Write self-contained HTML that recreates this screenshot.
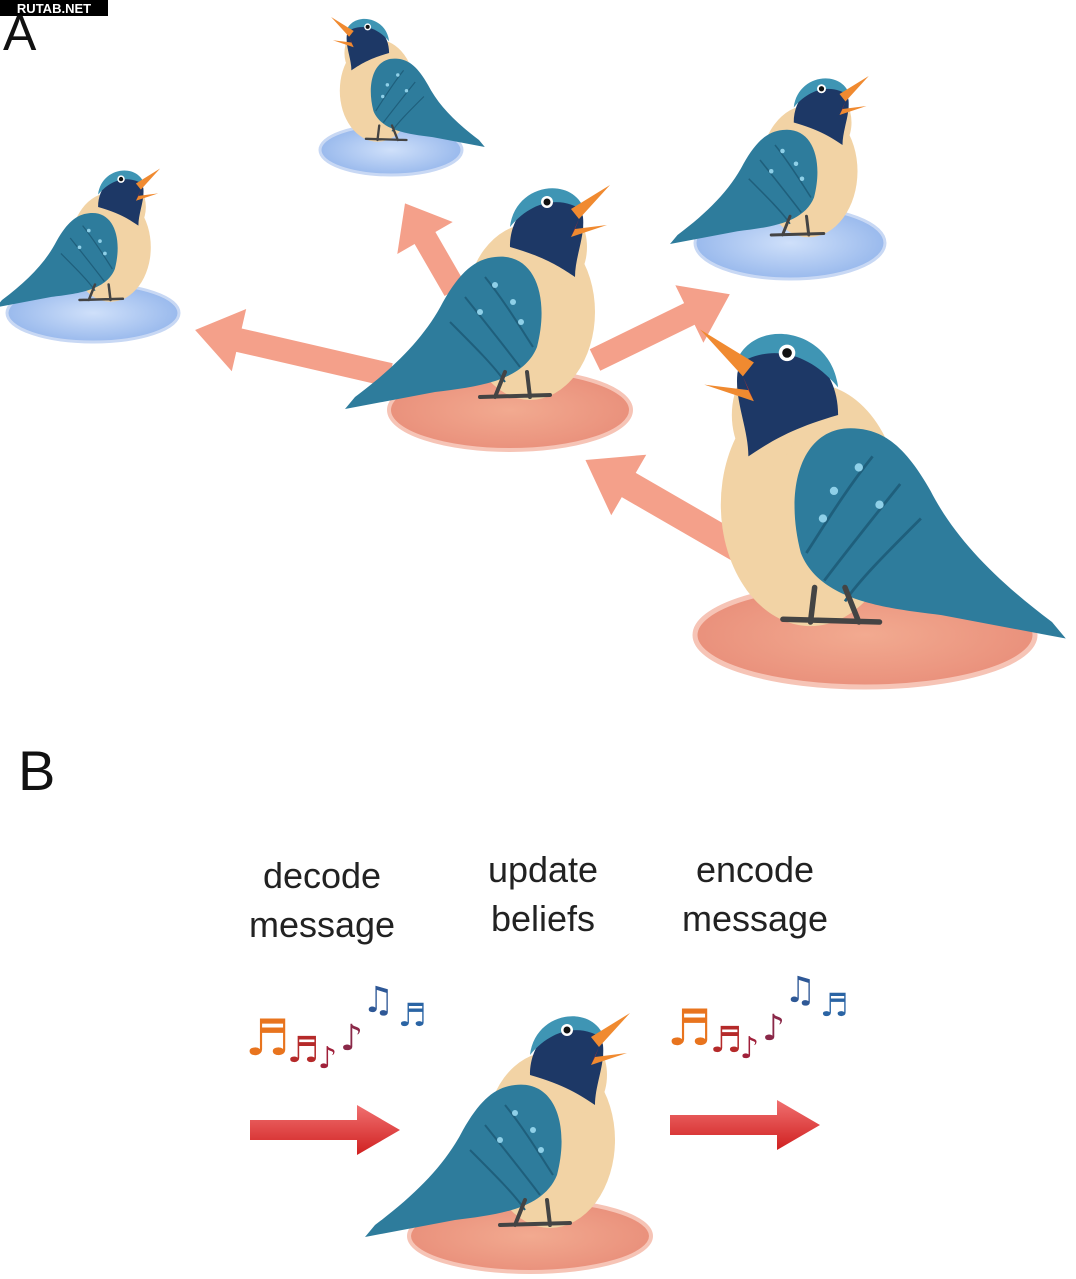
<!DOCTYPE html>
<html><head><meta charset="utf-8"><style>
html,body{margin:0;padding:0;background:#fff;width:1076px;height:1279px;overflow:hidden}
svg{display:block}
</style></head><body>
<svg width="1076" height="1279" viewBox="0 0 1076 1279" xmlns="http://www.w3.org/2000/svg">
<defs>
<radialGradient id="blue" cx="50%" cy="50%" r="60%"><stop offset="0" stop-color="#cfe0fa"/><stop offset="1" stop-color="#8fb2ea"/></radialGradient>
<radialGradient id="sal" cx="50%" cy="50%" r="60%"><stop offset="0" stop-color="#f2aa90"/><stop offset="1" stop-color="#e88c78"/></radialGradient>
<linearGradient id="red" x1="0" y1="0" x2="0" y2="1"><stop offset="0" stop-color="#f07070"/><stop offset="1" stop-color="#d02020"/></linearGradient>
<g id="bird">
  <ellipse cx="25" cy="-85" rx="65" ry="88" fill="#f2d3a5"/>
  <ellipse cx="58" cy="-150" rx="24" ry="38" fill="#f2d3a5"/>
  <path d="M5,-150 C5,-205 70,-220 78,-180 C80,-160 70,-140 70,-120 C55,-130 40,-140 5,-150 Z" fill="#1d3866"/>
  <path d="M5,-170 C10,-215 70,-222 80,-185 C60,-200 30,-200 5,-170 Z" fill="#3f95b4"/>
  <path d="M-10,-140 C30,-145 45,-100 32,-50 C18,-15 -30,-10 -70,-5 L-160,12 L-150,0 C-110,-30 -80,-60 -62,-95 C-45,-125 -30,-138 -10,-140 Z" fill="#2e7c9c"/>
  <path d="M-40,-100 C-20,-75 0,-50 15,-30 M-55,-75 C-30,-50 -10,-30 0,-15 M-20,-120 C0,-95 15,-70 28,-50" stroke="#1f5f7c" stroke-width="2" fill="none"/>
  <circle cx="-10" cy="-112" r="3" fill="#8fd0e8"/><circle cx="8" cy="-95" r="3" fill="#8fd0e8"/><circle cx="-25" cy="-85" r="3" fill="#8fd0e8"/><circle cx="16" cy="-75" r="3" fill="#8fd0e8"/>
  <path d="M66,-188 L105,-212 L74,-178 Z" fill="#f08a30"/>
  <path d="M70,-168 L102,-172 L66,-160 Z" fill="#f08a30"/>
  <path d="M74,-178 L66,-160 L70,-168 Z" fill="#c8302a"/>
  <circle cx="42" cy="-195" r="6" fill="#fff"/><circle cx="42" cy="-195" r="3.5" fill="#111"/>
  <path d="M0,-25 L-10,0 M22,-25 L25,0 M-25,0 L45,-2" stroke="#444" stroke-width="4" fill="none" stroke-linecap="round"/>
</g>
</defs>

<rect x="0" y="0" width="108" height="16" fill="#000"/>
<text x="54" y="13" font-family="Liberation Sans, sans-serif" font-weight="bold" font-size="13" fill="#fff" text-anchor="middle">RUTAB.NET</text>
<text x="3" y="50" font-family="Liberation Sans, sans-serif" font-size="50" fill="#111">A</text>

<ellipse cx="93" cy="313" rx="86" ry="29" fill="url(#blue)" stroke="#c8d8f4" stroke-width="3"/>
<ellipse cx="391" cy="150" rx="71" ry="25" fill="url(#blue)" stroke="#c8d8f4" stroke-width="3"/>
<ellipse cx="790" cy="243" rx="95" ry="36" fill="url(#blue)" stroke="#c8d8f4" stroke-width="3"/>
<ellipse cx="510" cy="410" rx="121" ry="40" fill="url(#sal)" stroke="#f6c4b6" stroke-width="4"/>
<ellipse cx="865" cy="635" rx="170" ry="52" fill="url(#sal)" stroke="#f6c4b6" stroke-width="5"/>

<g transform="translate(390,375) rotate(193)"><path d="M0,-12 L155,-12 L155,-32 L200,0 L155,32 L155,12 L0,12 Z" fill="#f4a08a"/></g>
<g transform="translate(455,290) rotate(240)"><path d="M0,-12 L60,-12 L60,-32 L100,0 L60,32 L60,12 L0,12 Z" fill="#f4a08a"/></g>
<g transform="translate(595,360) rotate(-26)"><path d="M0,-12 L105,-12 L105,-32 L150,0 L105,32 L105,12 L0,12 Z" fill="#f4a08a"/></g>
<g transform="translate(750,555) rotate(210)"><path d="M0,-14 L140,-14 L140,-35 L190,0 L140,35 L140,14 L0,14 Z" fill="#f4a08a"/></g>

<use href="#bird" transform="translate(95,300) scale(0.62)"/>
<use href="#bird" transform="translate(392,140) scale(-0.58,0.58)"/>
<use href="#bird" transform="translate(790,235) scale(0.75)"/>
<use href="#bird" transform="translate(505,397)"/>
<use href="#bird" transform="translate(845,622) scale(-1.38,1.38)"/>

<text x="18" y="790" font-family="Liberation Sans, sans-serif" font-size="56" fill="#111">B</text>
<g font-family="Liberation Sans, sans-serif" font-size="36" fill="#222" text-anchor="middle">
<text x="322" y="888">decode</text><text x="322" y="937">message</text>
<text x="543" y="882">update</text><text x="543" y="931">beliefs</text>
<text x="755" y="882">encode</text><text x="755" y="931">message</text>
</g>
<g font-family="DejaVu Sans, sans-serif">
<text x="245" y="1055" font-size="50" fill="#e8741e">♬</text>
<text x="287" y="1062" font-size="36" fill="#b52a2a">♬</text>
<text x="318" y="1068" font-size="30" fill="#a0203a">♪</text>
<text x="340" y="1050" font-size="36" fill="#8a2848">♪</text>
<text x="362" y="1012" font-size="36" fill="#2e5896">♫</text>
<text x="398" y="1026" font-size="32" fill="#2a64a4">♬</text>
<text x="667" y="1045" font-size="50" fill="#e8741e">♬</text>
<text x="710" y="1052" font-size="36" fill="#b52a2a">♬</text>
<text x="740" y="1058" font-size="30" fill="#a0203a">♪</text>
<text x="762" y="1040" font-size="36" fill="#8a2848">♪</text>
<text x="784" y="1002" font-size="36" fill="#2e5896">♫</text>
<text x="820" y="1016" font-size="32" fill="#2a64a4">♬</text>
</g>
<path d="M250,1120 L357,1120 L357,1105 L400,1130 L357,1155 L357,1140 L250,1140 Z" fill="url(#red)"/>
<path d="M670,1115 L777,1115 L777,1100 L820,1125 L777,1150 L777,1135 L670,1135 Z" fill="url(#red)"/>
<ellipse cx="530" cy="1236" rx="121" ry="36" fill="url(#sal)" stroke="#f6c4b6" stroke-width="4"/>
<use href="#bird" transform="translate(525,1225)"/>
</svg>
</body></html>
